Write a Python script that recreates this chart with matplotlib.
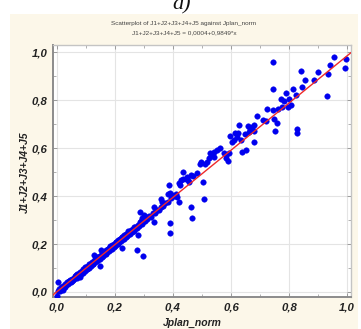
import matplotlib
matplotlib.use("Agg")
import matplotlib.pyplot as plt
from matplotlib.patches import Rectangle
from matplotlib.ticker import MultipleLocator

# ---------------- data ----------------
band_x = [0.004, 0.008, 0.012, 0.016, 0.019, 0.023, 0.026, 0.030, 0.033, 0.037, 0.040, 0.044, 0.047,
          0.051, 0.054, 0.058, 0.061, 0.065, 0.068, 0.072, 0.075, 0.079, 0.082, 0.086, 0.089, 0.093,
          0.096, 0.100, 0.103, 0.107, 0.110, 0.114, 0.117, 0.121, 0.124, 0.128, 0.131, 0.135, 0.138,
          0.142, 0.145, 0.149, 0.152, 0.156, 0.159, 0.163, 0.166, 0.170, 0.173, 0.177, 0.180, 0.184,
          0.187, 0.191, 0.194, 0.198, 0.201, 0.205, 0.208, 0.212, 0.215, 0.219, 0.222, 0.226, 0.229,
          0.233, 0.236, 0.240, 0.243, 0.247, 0.250, 0.254, 0.258, 0.262, 0.266, 0.270, 0.274, 0.279,
          0.283, 0.288, 0.292, 0.297, 0.302, 0.307, 0.312, 0.318, 0.324, 0.330, 0.337, 0.344, 0.351,
          0.358, 0.366, 0.374, 0.383, 0.392, 0.402, 0.412,
          0.020, 0.035, 0.050, 0.063, 0.077, 0.091, 0.105, 0.112, 0.126, 0.140, 0.148, 0.161, 0.168,
          0.182, 0.189, 0.203, 0.210, 0.224, 0.231, 0.245, 0.252, 0.265, 0.277, 0.290, 0.305,
          0.028, 0.042, 0.056, 0.070, 0.084, 0.098, 0.119, 0.133, 0.154, 0.175, 0.196, 0.217, 0.238]
band_y = [0.002, 0.012, 0.006, 0.019, 0.014, 0.025, 0.020, 0.033, 0.027, 0.040, 0.035, 0.048, 0.041,
          0.054, 0.047, 0.060, 0.055, 0.069, 0.060, 0.075, 0.068, 0.083, 0.074, 0.089, 0.081, 0.097,
          0.088, 0.104, 0.095, 0.110, 0.102, 0.118, 0.108, 0.125, 0.116, 0.131, 0.123, 0.139, 0.130,
          0.147, 0.137, 0.152, 0.144, 0.161, 0.151, 0.166, 0.158, 0.174, 0.165, 0.181, 0.172, 0.188,
          0.180, 0.195, 0.186, 0.202, 0.193, 0.208, 0.200, 0.215, 0.207, 0.222, 0.213, 0.229, 0.220,
          0.236, 0.228, 0.243, 0.234, 0.250, 0.242, 0.257, 0.250, 0.264, 0.256, 0.272, 0.265, 0.281,
          0.275, 0.290, 0.284, 0.299, 0.294, 0.306, 0.304, 0.318, 0.314, 0.329, 0.330, 0.341, 0.343,
          0.356, 0.358, 0.372, 0.376, 0.392, 0.399, 0.408,
          0.010, 0.042, 0.043, 0.066, 0.071, 0.094, 0.096, 0.117, 0.118, 0.145, 0.139, 0.168, 0.160,
          0.190, 0.178, 0.209, 0.198, 0.231, 0.219, 0.253, 0.243, 0.270, 0.268, 0.297, 0.298,
          0.021, 0.046, 0.050, 0.075, 0.078, 0.103, 0.112, 0.138, 0.146, 0.179, 0.188, 0.222, 0.230]

upper_x = [0.956, 0.995, 0.992, 0.941, 0.935, 0.901, 0.842, 0.853, 0.884, 0.746, 0.813, 0.845, 0.743,
           0.790, 0.773, 0.782, 0.799, 0.822, 0.808, 0.795, 0.777, 0.930, 0.725, 0.744, 0.762, 0.749,
           0.758, 0.752, 0.828, 0.828, 0.688, 0.709, 0.722, 0.626, 0.598, 0.614, 0.619, 0.624, 0.660,
           0.666, 0.671, 0.680, 0.678, 0.662, 0.649, 0.635, 0.609, 0.605, 0.678, 0.636, 0.652, 0.561,
           0.552, 0.543, 0.533, 0.525, 0.516, 0.497, 0.492, 0.510, 0.529, 0.576, 0.584, 0.582, 0.590,
           0.541, 0.433, 0.449, 0.461, 0.444, 0.429, 0.421, 0.424, 0.388, 0.503, 0.484, 0.592, 0.436,
           0.455, 0.470]
upper_y = [0.978, 0.970, 0.933, 0.945, 0.911, 0.917, 0.920, 0.886, 0.886, 0.961, 0.845, 0.853, 0.845,
           0.828, 0.803, 0.795, 0.803, 0.822, 0.778, 0.772, 0.770, 0.817, 0.761, 0.758, 0.761, 0.722,
           0.704, 0.671, 0.679, 0.661, 0.733, 0.717, 0.714, 0.695, 0.651, 0.661, 0.647, 0.664, 0.692,
           0.680, 0.686, 0.696, 0.672, 0.667, 0.657, 0.632, 0.633, 0.625, 0.626, 0.585, 0.592, 0.600,
           0.592, 0.585, 0.571, 0.557, 0.543, 0.540, 0.533, 0.532, 0.578, 0.580, 0.571, 0.560, 0.547,
           0.564, 0.501, 0.480, 0.488, 0.470, 0.467, 0.455, 0.445, 0.447, 0.460, 0.495, 0.580, 0.470,
           0.460, 0.484]

mid_x = [0.389, 0.383, 0.398, 0.415, 0.421, 0.451, 0.390, 0.390, 0.358, 0.364, 0.335, 0.338, 0.335,
         0.287, 0.278, 0.226, 0.275, 0.506, 0.461, 0.465, 0.297, 0.150, 0.003, 0.001, 0.081, 0.152,
         0.129, 0.300, 0.295, 0.306]
mid_y = [0.414, 0.408, 0.404, 0.397, 0.376, 0.467, 0.286, 0.245, 0.386, 0.376, 0.355, 0.335, 0.293,
         0.335, 0.2375, 0.182, 0.175, 0.386, 0.353, 0.307, 0.150, 0.108, 0.043, -0.015, 0.064, 0.175,
         0.154, 0.320, 0.307, 0.314]

fit_intercept = 0.0004
fit_slope = 0.9849
fit_x = [-0.02, 1.02]

tick_values = [0.0, 0.2, 0.4, 0.6, 0.8, 1.0]
tick_labels = ["0,0", "0,2", "0,4", "0,6", "0,8", "1,0"]

title_lines = ["Scatterplot of J1+J2+J3+J4+J5 against Jplan_norm",
               "J1+J2+J3+J4+J5 = 0,0004+0,9849*x"]
x_label = "Jplan_norm"
y_label = "J1+J2+J3+J4+J5"

# ---------------- figure ----------------
plt.rcParams['font.family'] = ['Liberation Sans', 'DejaVu Sans']
W, H = 361, 329
fig = plt.figure(figsize=(W / 100, H / 100), dpi=100)
fig.patch.set_facecolor('white')
bg = Rectangle((10 / W, 0), 348 / W, (H - 14) / H, transform=fig.transFigure,
               facecolor='#fcf7e9', edgecolor='none', zorder=-10)
fig.add_artist(bg)

ax = fig.add_axes([53 / W, (H - 297) / H, (351 - 53) / W, (297 - 45) / H], zorder=5)
ax.set_facecolor('white')

xs = band_x + upper_x + mid_x
ys = band_y + upper_y + mid_y
ax.scatter(xs, ys, s=16, color='#0000ee', edgecolors='#0000ee', linewidths=0.3, zorder=3)

fit_y = [fit_intercept + fit_slope * v for v in fit_x]
ax.plot(fit_x, fit_y, color='#ee2a2a', lw=1.0, zorder=4)

ax.set_xlim(-0.013, 1.013)
ax.set_ylim(-0.021, 1.03)
ax.set_xticks(tick_values)
ax.set_yticks(tick_values)
ax.set_xticklabels(tick_labels, fontsize=8.2, fontweight='bold', fontstyle='italic')
ax.set_yticklabels(tick_labels, fontsize=8.2, fontweight='bold', fontstyle='italic')
ax.xaxis.set_minor_locator(MultipleLocator(0.1))
ax.yaxis.set_minor_locator(MultipleLocator(0.1))
ax.tick_params(which='both', direction='in', top=True, right=True, color='#909090')
ax.tick_params(which='major', length=3, width=0.6, pad=4, labelcolor='#222222')
ax.tick_params(which='minor', length=2, width=0.5)
ax.grid(True, which='major', color='#e4e4e4', lw=0.8, zorder=0)
ax.set_axisbelow(True)

for side in ['left', 'bottom']:
    ax.spines[side].set_color('#8c8c8c')
    ax.spines[side].set_linewidth(1.4)
for side in ['top', 'right']:
    ax.spines[side].set_color('#c4c4c4')
    ax.spines[side].set_linewidth(1.0)

fig.text(184 / W, 1 - 24 / H, title_lines[0], ha='center', va='center', fontsize=4.6, color='#444444')
fig.text(184 / W, 1 - 32.5 / H, title_lines[1], ha='center', va='center', fontsize=4.6, color='#444444')

fig.text(192 / W, 1 - 323 / H, x_label, ha='center', va='center', fontsize=7.5,
         fontweight='bold', fontstyle='italic', color='#222222')
fig.text(25 / W, 1 - 172 / H, y_label, ha='center', va='center', rotation=90, fontsize=7.5,
         fontweight='bold', fontstyle='italic', color='#222222')

fig.text(182 / W, 1 - 9 / H, "a)", ha='center', va='baseline', fontsize=16,
         fontstyle='italic', family=['Liberation Serif', 'DejaVu Serif'], color='#111111')

fig.savefig('out.png', dpi=100, facecolor='white')
